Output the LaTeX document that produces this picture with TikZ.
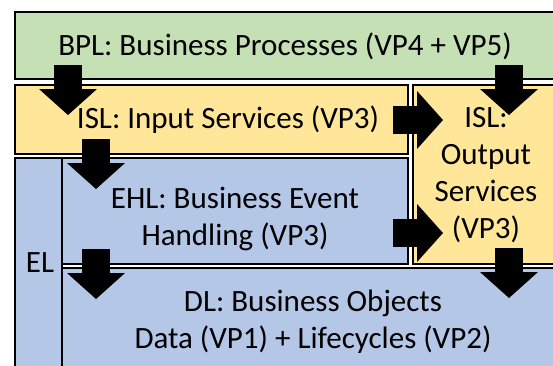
\documentclass[tikz,border=0pt]{standalone}
\usepackage{fontspec}
\setmainfont{Carlito}
\usetikzlibrary{arrows.meta}
\definecolor{bplgreen}{HTML}{C5E0B4}
\definecolor{islyellow}{HTML}{FFE699}
\definecolor{elblue}{HTML}{B4C7E7}

\begin{document}
\begin{tikzpicture}[x=1pt,y=-1pt,
  layerbox/.style={draw=black, line width=2pt, rectangle, inner sep=0pt, anchor=north west},
  caption/.style={font=\fontsize{31}{37}\selectfont, inner sep=0pt, anchor=base, align=center},
  flow/.style={line width=28pt, -{Triangle[width=58pt,length=26pt,line width=0pt]}}]
\useasboundingbox (0,0) rectangle (553,365);
\clip (0,0) rectangle (553,365);

% layer boxes
\node[layerbox, fill=bplgreen, minimum width=546pt, minimum height=67pt] (bpl) at (14,11) {};
\node[layerbox, fill=islyellow, minimum width=393pt, minimum height=69pt] (islin) at (14,84) {};
\node[layerbox, fill=islyellow, minimum width=153pt, minimum height=179pt] (islout) at (412,84) {};
\node[layerbox, fill=elblue, minimum width=47pt, minimum height=230pt] (el) at (14,157) {};
\node[layerbox, fill=elblue, minimum width=346pt, minimum height=106pt] (ehl) at (61,157) {};
\node[layerbox, fill=elblue, minimum width=504pt, minimum height=120pt] (dl) at (61,267) {};

% captions (a multi-line caption sits on the baseline of its last line)
\node[caption] (bpltext) at (285,55) {BPL: Business Processes (VP4 + VP5)};
\node[caption] (islintext) at (228,128) {ISL: Input Services (VP3)};
\node[caption] (islouttext) at (486,238) {ISL:\\Output\\Services\\(VP3)};
\node[caption] (ehltext) at (235,245) {EHL: Business Event\\Handling (VP3)};
\node[caption] (dltext) at (313,348) {DL: Business Objects\\Data (VP1) + Lifecycles (VP2)};
\node[caption] (eltext) at (40,272) {EL};

% flow arrows between layers
\coordinate (f1a) at (68,65);   \coordinate (f1b) at (68,115);
\coordinate (f2a) at (509,65);  \coordinate (f2b) at (509,115);
\coordinate (f3a) at (393,120); \coordinate (f3b) at (443,120);
\coordinate (f4a) at (96,139);  \coordinate (f4b) at (96,189);
\coordinate (f5a) at (393,233); \coordinate (f5b) at (443,233);
\coordinate (f6a) at (96,249);  \coordinate (f6b) at (96,299);
\coordinate (f7a) at (509,248); \coordinate (f7b) at (509,298);
\foreach \f in {1,...,7} \draw[flow] (f\f a) -- (f\f b);
\end{tikzpicture}
\end{document}
